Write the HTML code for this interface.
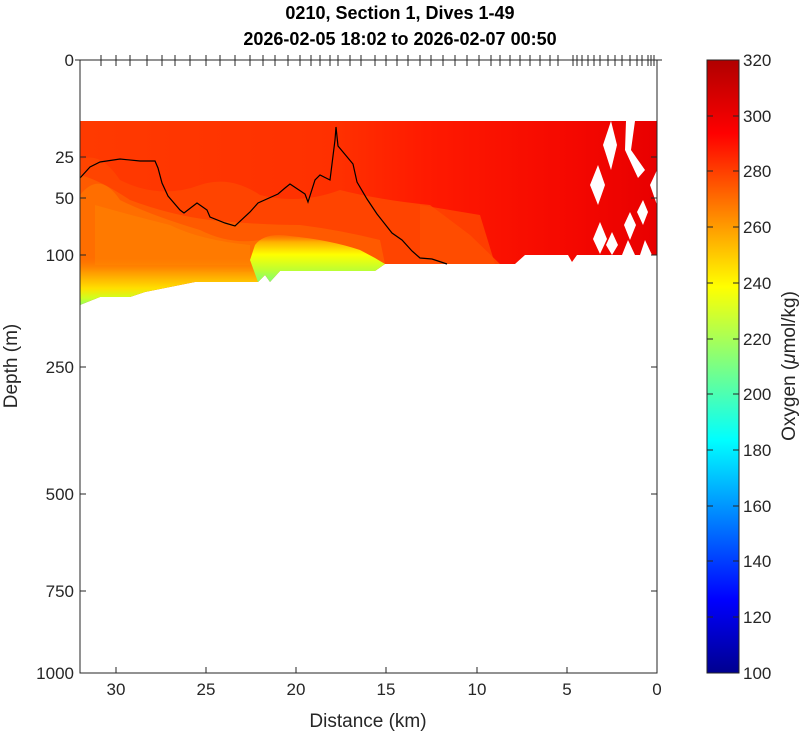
<!DOCTYPE html>
<html><head><style>body{margin:0;background:#fff}svg{display:block;font-family:"Liberation Sans",sans-serif}</style></head>
<body>
<svg width="800" height="734" viewBox="0 0 800 734" xmlns="http://www.w3.org/2000/svg">
<defs>
<linearGradient id="cb" x1="0" y1="1" x2="0" y2="0">
<stop offset="0" stop-color="#00008f"/>
<stop offset="0.12" stop-color="#0000ff"/>
<stop offset="0.38" stop-color="#00ffff"/>
<stop offset="0.63" stop-color="#ffff00"/>
<stop offset="0.88" stop-color="#ff0000"/>
<stop offset="1" stop-color="#b00000"/>
</linearGradient>
<linearGradient id="hz" x1="0" y1="0" x2="1" y2="0">
<stop offset="0" stop-color="#ff3a00"/>
<stop offset="0.45" stop-color="#ff3000"/>
<stop offset="0.6" stop-color="#ff1a00"/>
<stop offset="0.85" stop-color="#f50800"/>
<stop offset="1" stop-color="#e80000"/>
</linearGradient>
<linearGradient id="yl" gradientUnits="userSpaceOnUse" x1="0" y1="258" x2="0" y2="305">
<stop offset="0" stop-color="#ff8000" stop-opacity="0"/>
<stop offset="0.3" stop-color="#ff9a00"/>
<stop offset="0.65" stop-color="#ffe000"/>
<stop offset="0.85" stop-color="#d0ff20"/>
<stop offset="1" stop-color="#90ff60"/>
</linearGradient>
<linearGradient id="yr" gradientUnits="userSpaceOnUse" x1="0" y1="232" x2="0" y2="282">
<stop offset="0" stop-color="#ff8000" stop-opacity="0"/>
<stop offset="0.2" stop-color="#ffb000"/>
<stop offset="0.45" stop-color="#ffff00"/>
<stop offset="0.75" stop-color="#c0ff30"/>
<stop offset="1" stop-color="#80ff70"/>
</linearGradient>
</defs>
<text x="400" y="19" font-size="18" font-weight="bold" text-anchor="middle">0210, Section 1, Dives 1-49</text>
<text x="400" y="45" font-size="18" font-weight="bold" text-anchor="middle">2026-02-05 18:02 to 2026-02-07 00:50</text>

<polygon fill="url(#hz)" points="80,121 657,121 657,255 577,255 572,262 568,255 525,255 515,264 385,264 375,271 280,271 270,282 265,275 258,282 195,282 145,292 130,297 100,297 80,305"/>
<path fill="#ff4400" d="M80,160 Q100,150 120,180 Q160,200 200,185 Q230,175 260,195 Q300,205 340,190 Q380,200 430,205 L470,235 L500,264 L80,264Z"/>
<path fill="#ff5a00" d="M80,175 Q100,180 130,200 Q170,215 210,220 Q260,225 300,225 Q340,230 380,240 L385,264 L80,270Z"/>
<path fill="#ff6e00" d="M80,195 Q100,170 120,200 Q150,215 200,230 Q230,245 260,240 L270,270 L80,275Z"/>
<path fill="#ff7a00" d="M95,205 Q130,215 170,225 Q200,240 250,245 L250,265 L95,265Z"/>
<path fill="#ff5000" opacity="0.7" d="M420,205 Q450,210 480,215 L495,264 L420,264Z"/>
<path fill="url(#yl)" d="M80,258 L260,258 L265,275 L258,282 L195,282 L145,292 L130,297 L100,297 L80,305Z"/>
<path fill="url(#yr)" d="M255,245 Q265,232 290,236 Q330,240 360,250 L375,258 L385,264 L375,271 L280,271 L270,282 L265,275 L258,282 L250,260Z"/>
<g fill="#fff">
<polygon points="611,121 617,145 611,170 603,145"/>
<polygon points="626,121 635,121 631,150 645,170 638,178 625,150"/>
<polygon points="598,165 605,185 598,205 590,185"/>
<polygon points="657,170 650,185 657,205"/>
<polygon points="600,222 607,239 600,254 593,239"/>
<polygon points="612,232 618,245 612,255 606,245"/>
<polygon points="630,212 636,225 630,240 624,225"/>
<polygon points="643,200 648,212 643,225 637,212"/>
<polygon points="628,240 635,255 622,255"/>
<polygon points="645,240 652,255 640,255"/>
</g>
<polyline fill="none" stroke="#000" stroke-width="1.2" points="80,178 90,167 100,162 120,159 140,161 155,161 158,168 162,183 168,196 180,210 184,213 197,203 207,210 210,217 225,223 235,226 250,212 258,203 278,194 285,188 290,184 305,194 308,202 315,180 320,175 330,180 335,140 336,127 338,146 353,164 357,182 367,199 377,214 392,233 402,240 412,251 420,258 432,259 447,264"/>

<rect x="80" y="60" width="577" height="613" fill="none" stroke="#262626" stroke-width="1"/>
<g stroke="#262626" stroke-width="1">
<line x1="116" y1="673" x2="116" y2="667"/><line x1="206" y1="673" x2="206" y2="667"/><line x1="296" y1="673" x2="296" y2="667"/><line x1="386" y1="673" x2="386" y2="667"/><line x1="477" y1="673" x2="477" y2="667"/><line x1="567" y1="673" x2="567" y2="667"/>
<line x1="80" y1="157" x2="86" y2="157"/><line x1="80" y1="198" x2="86" y2="198"/><line x1="80" y1="255" x2="86" y2="255"/><line x1="80" y1="367" x2="86" y2="367"/><line x1="80" y1="494" x2="86" y2="494"/><line x1="80" y1="591" x2="86" y2="591"/>
<line x1="657" y1="157" x2="651" y2="157"/><line x1="657" y1="198" x2="651" y2="198"/><line x1="657" y1="255" x2="651" y2="255"/><line x1="657" y1="367" x2="651" y2="367"/><line x1="657" y1="494" x2="651" y2="494"/><line x1="657" y1="591" x2="651" y2="591"/>
<line x1="75" y1="60" x2="662" y2="60"/>
<path d="M101,55V66M116,55V66M130,55V66M147,55V66M162,55V66M175,55V66M190,55V66M206,55V66M220,55V66M235,55V66M250,55V66M263,55V66M275,55V66M288,55V66M300,55V66M311,55V66M320,55V66M330,55V66M338,55V66M350,55V66M361,55V66M375,55V66M386,55V66M397,55V66M408,55V66M420,55V66M431,55V66M443,55V66M455,55V66M467,55V66M479,55V66M491,55V66M500,55V66M510,55V66M520,55V66M530,55V66M540,55V66M550,55V66M558,55V66M573,55V66M577,55V66M582,55V66M588,55V66M594,55V66M600,55V66M608,55V66M615,55V66M622,55V66M630,55V66M637,55V66M642,55V66M648,55V66M651,55V66M654,55V66"/>
</g>
<g font-size="17" fill="#262626" text-anchor="middle">
<text x="116" y="695">30</text><text x="206" y="695">25</text><text x="296" y="695">20</text><text x="386" y="695">15</text><text x="477" y="695">10</text><text x="567" y="695">5</text><text x="657" y="695">0</text>
</g>
<g font-size="17" fill="#262626" text-anchor="end">
<text x="74" y="66">0</text><text x="74" y="163">25</text><text x="74" y="204">50</text><text x="74" y="261">100</text><text x="74" y="373">250</text><text x="74" y="500">500</text><text x="74" y="597">750</text><text x="74" y="679">1000</text>
</g>
<text x="368" y="727" font-size="19" fill="#262626" text-anchor="middle">Distance (km)</text>
<text transform="translate(17,366) rotate(-90)" font-size="19" fill="#262626" text-anchor="middle">Depth (m)</text>

<rect x="707" y="60" width="32" height="613" fill="url(#cb)" stroke="#262626" stroke-width="1"/>
<g font-size="17" fill="#262626">
<text x="743" y="66">320</text><text x="743" y="122">300</text><text x="743" y="177">280</text><text x="743" y="233">260</text><text x="743" y="289">240</text><text x="743" y="345">220</text><text x="743" y="400">200</text><text x="743" y="456">180</text><text x="743" y="512">160</text><text x="743" y="567">140</text><text x="743" y="623">120</text><text x="743" y="679">100</text>
</g>
<g stroke="#262626"><path d="M733,116H739M733,171H739M733,227H739M733,283H739M733,339H739M733,394H739M733,450H739M733,506H739M733,561H739M733,617H739M707,116H713M707,171H713M707,227H713M707,283H713M707,339H713M707,394H713M707,450H713M707,506H713M707,561H713M707,617H713"/></g>
<text transform="translate(795,366) rotate(-90)" font-size="19" fill="#262626" text-anchor="middle">Oxygen (<tspan font-style="italic">μ</tspan>mol/kg)</text>
</svg>
</body></html>
